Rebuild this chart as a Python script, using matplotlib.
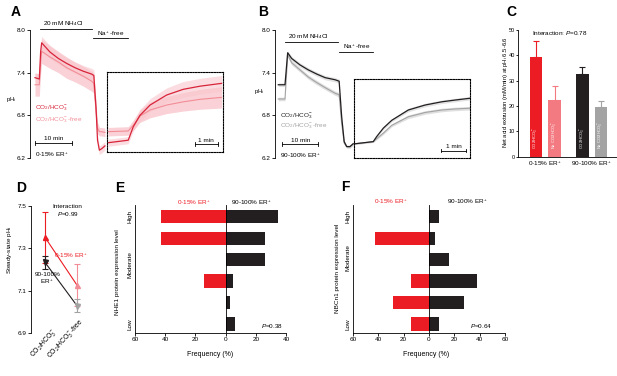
import matplotlib
matplotlib.use('Agg')
import matplotlib.pyplot as plt
from matplotlib.lines import Line2D
import numpy as np

plt.rcParams['font.family'] = ['Liberation Sans', 'DejaVu Sans']
plt.rcParams['mathtext.fontset'] = 'custom'
plt.rcParams['mathtext.rm'] = 'Liberation Sans'
plt.rcParams['mathtext.it'] = 'Liberation Sans:italic'
plt.rcParams['mathtext.bf'] = 'Liberation Sans:bold'

# ---------------- data ----------------
# Panel A (0-15% ER+): main pHi trace (time in min)
a_time = [0, 1.17, 1.53, 1.8, 4.05, 6.31, 8.56, 10.8, 13.06, 15.3, 15.9, 16.5, 16.9, 17.4, 18.0, 18.9]
a_ctrl = [7.33, 7.31, 7.70, 7.82, 7.69, 7.60, 7.53, 7.47, 7.42, 7.38, 7.36, 6.90, 6.45, 6.31, 6.33, 6.37]
a_free = [7.23, 7.23, 7.55, 7.70, 7.62, 7.55, 7.47, 7.41, 7.35, 7.28, 7.25, 6.85, 6.62, 6.57, 6.57, 6.56]
a_ctrl_sem = [0.07, 0.07, 0.08, 0.09, 0.09, 0.08, 0.08, 0.08, 0.08, 0.08, 0.08, 0.08, 0.07, 0.06, 0.06, 0.06]
a_free_sem = [0.16, 0.16, 0.16, 0.17, 0.16, 0.15, 0.15, 0.14, 0.14, 0.14, 0.14, 0.12, 0.08, 0.06, 0.06, 0.06]
# Panel A inset (recovery, time in min)
ai_time = [0.04, 0.91, 1.13, 1.42, 1.86, 2.58, 3.30, 4.03, 4.97]
ai_ctrl = [6.415, 6.45, 6.64, 6.80, 6.945, 7.086, 7.166, 7.21, 7.25]
ai_free = [6.57, 6.58, 6.66, 6.79, 6.875, 6.945, 6.99, 7.025, 7.053]
ai_ctrl_sem = [0.05, 0.05, 0.06, 0.08, 0.09, 0.10, 0.11, 0.11, 0.11]
ai_free_sem = [0.06, 0.06, 0.07, 0.09, 0.11, 0.12, 0.13, 0.14, 0.15]

# Panel B (90-100% ER+)
b_time = [0, 1.86, 2.6, 3.7, 6.0, 8.3, 10.7, 13.0, 15.8, 16.9, 17.6, 18.3, 19.0, 19.9, 20.8]
b_ctrl = [7.23, 7.23, 7.68, 7.60, 7.51, 7.44, 7.38, 7.33, 7.30, 7.28, 6.78, 6.43, 6.36, 6.36, 6.40]
b_free = [7.03, 7.03, 7.65, 7.54, 7.44, 7.34, 7.26, 7.19, 7.11, 7.09, 6.69, 6.41, 6.36, 6.36, 6.40]
b_sem = [0.025, 0.025, 0.03, 0.03, 0.03, 0.03, 0.03, 0.03, 0.03, 0.03, 0.03, 0.02, 0.02, 0.02, 0.02]
bi_time = [0.03, 0.79, 0.93, 1.21, 1.56, 2.25, 2.95, 3.64, 4.2, 4.82]
bi_ctrl = [6.40, 6.43, 6.50, 6.62, 6.73, 6.875, 6.945, 6.99, 7.015, 7.04]
bi_free = [6.40, 6.43, 6.47, 6.55, 6.66, 6.78, 6.84, 6.875, 6.89, 6.90]
bi_sem = [0.01, 0.01, 0.015, 0.02, 0.02, 0.025, 0.025, 0.025, 0.025, 0.025]

# Panel C
c_groups = ['0-15% ER$^+$', '90-100% ER$^+$']
c_bar_labels = ['CO$_2$/HCO$_3^-$', 'No CO$_2$/HCO$_3^-$', 'CO$_2$/HCO$_3^-$', 'No CO$_2$/HCO$_3^-$']
c_values = [39.5, 22.4, 32.6, 19.7]
c_err = [6.3, 5.5, 2.7, 2.4]

# Panel D
d_conditions = ['CO$_2$/HCO$_3^-$', 'CO$_2$/HCO$_3^-$-free']
d_low = [7.352, 7.127]
d_low_err = [0.12, 0.10]
d_high = [7.234, 7.03]
d_high_err = [0.03, 0.03]

# Panels E/F: frequency (%) per expression level, High (top) -> Low (bottom)
e_low = [42.9, 42.9, 0, 14.3, 0, 0]
e_high = [35.0, 25.9, 25.9, 4.6, 2.8, 6.1]
f_low = [0, 42.9, 0, 14.3, 28.6, 14.3]
f_high = [7.5, 4.8, 15.5, 38.0, 28.0, 7.5]
level_ticks = ['Low', 'Moderate', 'High']

# ---------------- style ----------------
RED = '#d8243a'
PINK = '#f28d97'
PINKBAND = '#f9c6cc'
BRED = '#ec1c24'
BPINK = '#f47a82'
BLACK = '#231f20'
GRAY = '#a3a3a3'
FS = 4.6
LW = 0.6

W, H = 617, 376
fig = plt.figure(figsize=(W / 100, H / 100), dpi=100)


def add_ax(x0, y0, x1, y1):
    return fig.add_axes([x0 / W, 1 - y1 / H, (x1 - x0) / W, (y1 - y0) / H])


def ftext(x, y, s, **kw):
    kw.setdefault('fontsize', FS)
    kw.setdefault('va', 'center')
    kw.setdefault('ha', 'left')
    return fig.text(x / W, 1 - y / H, s, **kw)


def hline(x0, x1, y, caps=False, **kw):
    kw.setdefault('color', 'black')
    kw.setdefault('lw', LW)
    fig.add_artist(Line2D([x0 / W, x1 / W], [1 - y / H, 1 - y / H], transform=fig.transFigure, **kw))
    if caps:
        for xx in (x0, x1):
            fig.add_artist(Line2D([xx / W, xx / W], [1 - (y - 1.8) / H, 1 - (y + 1.8) / H],
                                  transform=fig.transFigure, **kw))


def style(ax, left=True, bottom=True):
    for s in ['top', 'right']:
        ax.spines[s].set_visible(False)
    ax.spines['left'].set_visible(left)
    ax.spines['bottom'].set_visible(bottom)
    for s in ['left', 'bottom']:
        ax.spines[s].set_linewidth(LW)
    ax.tick_params(labelsize=FS, length=2, width=LW, pad=1)
    ax.patch.set_alpha(0)


def trace_panel(x_axis, t0px, pxmin, x_right, ctrl, free, time, sem_c, sem_f, c_ctrl, c_free, band_c, band_f):
    ax = add_ax(x_axis, 30, x_right, 158)
    ax.set_xlim((x_axis - t0px) / pxmin, (x_right - t0px) / pxmin)
    ax.set_ylim(6.2, 8.0)
    style(ax, bottom=False)
    ax.set_xticks([])
    ax.set_yticks([6.2, 6.8, 7.4, 8.0])
    ax.set_yticklabels(['6.2', '6.8', '7.4', '8.0'])
    t = np.array(time)
    ax.fill_between(t, np.array(free) - sem_f, np.array(free) + sem_f, color=band_f, lw=0, clip_on=False, alpha=0.8)
    ax.fill_between(t, np.array(ctrl) - sem_c, np.array(ctrl) + sem_c, color=band_c, lw=0, clip_on=False, alpha=0.6)
    ax.plot(t, free, color=c_free, lw=0.8, clip_on=False)
    ax.plot(t, ctrl, color=c_ctrl, lw=0.9, clip_on=False)
    return ax


def inset_panel(x0, y0, x1, y1, xlim, ylim, time, ctrl, free, sem_c, sem_f, c_ctrl, c_free, band_c, band_f):
    ax = add_ax(x0, y0, x1, y1)
    ax.set_xlim(*xlim)
    ax.set_ylim(*ylim)
    ax.set_xticks([])
    ax.set_yticks([])
    ax.patch.set_alpha(0)
    for s in ax.spines.values():
        s.set_linestyle((0, (1.2, 1.2)))
        s.set_linewidth(0.8)
    t = np.array(time)
    ax.fill_between(t, np.array(free) - sem_f, np.array(free) + sem_f, color=band_f, lw=0, alpha=0.8)
    ax.fill_between(t, np.array(ctrl) - sem_c, np.array(ctrl) + sem_c, color=band_c, lw=0, alpha=0.6)
    ax.plot(t, free, color=c_free, lw=0.8)
    ax.plot(t, ctrl, color=c_ctrl, lw=0.9)
    return ax


# ---------------- Panel A ----------------
trace_panel(30, 35, 3.7, 225, a_ctrl, a_free, a_time, np.array(a_ctrl_sem), np.array(a_free_sem),
            RED, PINK, PINKBAND, PINKBAND)
inset_panel(107.3, 71.7, 223, 152.3, (0, 5.03), (6.28, 7.414), ai_time, ai_ctrl, ai_free,
            np.array(ai_ctrl_sem), np.array(ai_free_sem), RED, PINK, PINKBAND, PINKBAND)
ftext(16, 12, 'A', fontsize=10, weight='bold', ha='center')
ftext(43, 24, '20 mM NH$_4$Cl')
hline(40, 91.7, 29.3)
ftext(97, 33.8, 'Na$^+$-free')
hline(93.3, 128.3, 38.3)
ftext(11, 99, 'pH$_\\mathrm{i}$', ha='center', fontsize=4.2)
ftext(35, 108.3, 'CO$_2$/HCO$_3^-$', color=RED)
ftext(35, 120.7, 'CO$_2$/HCO$_3^-$-free', color=PINK)
ftext(53.3, 138.3, '10 min', ha='center')
hline(35, 71.7, 142.7, caps=True)
ftext(35, 155, '0-15% ER$^+$')
ftext(206, 140, '1 min', ha='center')
hline(195, 217.7, 144.3, caps=True)

# ---------------- Panel B ----------------
trace_panel(275, 278.3, 3.6, 470, b_ctrl, b_free, b_time, np.array(b_sem), np.array(b_sem),
            BLACK, GRAY, '#cfcfcf', '#d8d8d8')
inset_panel(354.3, 79, 470, 157.7, (0, 4.82), (6.204, 7.311), bi_time, bi_ctrl, bi_free,
            np.array(bi_sem), np.array(bi_sem), BLACK, GRAY, '#cfcfcf', '#d8d8d8')
ftext(263, 12, 'B', fontsize=10, weight='bold', ha='center')
ftext(288, 36.7, '20 mM NH$_4$Cl')
hline(285, 338, 41.7)
ftext(343, 47, 'Na$^+$-free')
hline(339, 373, 51.7)
ftext(259, 91, 'pH$_\\mathrm{i}$', ha='center', fontsize=4.2)
ftext(280, 116.7, 'CO$_2$/HCO$_3^-$', color=BLACK)
ftext(280, 126.7, 'CO$_2$/HCO$_3^-$-free', color=GRAY)
ftext(300.3, 140.3, '10 min', ha='center')
hline(282.3, 318.3, 144.3, caps=True)
ftext(280, 156, '90-100% ER$^+$')
ftext(454, 146.5, '1 min', ha='center')
hline(441, 466, 150.5, caps=True)

# ---------------- Panel C ----------------
axC = add_ax(518, 30, 617, 156.7)
style(axC)
axC.tick_params(axis='y', labelsize=4.0, length=1.5, pad=0.6)
c_pos = [0, 1, 2.5, 3.5]
axC.set_xlim((518 - 536) / 18.57, (617 - 536) / 18.57)
axC.set_ylim(0, 50)
c_cols = [BRED, BPINK, BLACK, GRAY]
axC.bar(c_pos, c_values, width=0.68, color=c_cols)
for p, v, e, col in zip(c_pos, c_values, c_err, c_cols):
    axC.errorbar([p], [v], yerr=[[0], [e]], fmt='none', ecolor=col, elinewidth=0.8, capsize=2.2, capthick=0.8)
for p, lab in zip(c_pos, c_bar_labels):
    axC.text(p, 3.2, lab, rotation=90, ha='center', va='bottom', color='white', fontsize=2.9)
axC.set_yticks([0, 10, 20, 30, 40, 50])
axC.set_xticks([0.5, 3.0])
axC.set_xticklabels(c_groups)
axC.tick_params(axis='x', length=0, pad=2.5)
ftext(511, 12, 'C', fontsize=10, weight='bold', ha='center')
ftext(505, 92, 'Net acid extrusion (mM/min) at pH$_\\mathrm{i}$ 6.5-6.6', rotation=90, ha='center', fontsize=4.2)
ftext(532, 33.3, 'Interaction: $P$=0.78')

# ---------------- Panel D ----------------
axD = add_ax(31, 206, 100, 333.3)
style(axD, bottom=False)
axD.set_xlim(-0.44, 1.72)
axD.set_ylim(6.9, 7.5)
axD.set_xticks([])
axD.set_yticks([6.9, 7.1, 7.3, 7.5])
axD.plot([0, 1], d_low, color=BRED, lw=0.8, zorder=2)
axD.plot([0, 1], d_high, color=BLACK, lw=0.8, zorder=2)
for i, (col_l, col_h) in enumerate([(BRED, BLACK), (PINK, GRAY)]):
    axD.errorbar([i], [d_low[i]], yerr=[d_low_err[i]], fmt='^', color=col_l, ms=3.6,
                 elinewidth=0.8, capsize=2, capthick=0.8, zorder=3)
    axD.errorbar([i], [d_high[i]], yerr=[d_high_err[i]], fmt='v', color=col_h, ms=3.6,
                 elinewidth=0.8, capsize=2, capthick=0.8, zorder=4)
ftext(21, 188, 'D', fontsize=10, weight='bold', ha='center')
ftext(10, 250, 'Steady-state pH$_\\mathrm{i}$', rotation=90, ha='center')
ftext(67, 206.7, 'Interaction', ha='center')
ftext(68, 213.8, '$P$=0.99', ha='center')
ftext(71, 255.7, '0-15% ER$^+$', ha='center', color=BRED)
ftext(48, 274, '90-100%', ha='center')
ftext(47.5, 282.3, 'ER$^+$', ha='center')
ftext(56, 330, d_conditions[0], rotation=48, rotation_mode='anchor', ha='right', va='center', fontsize=4.9)
ftext(82, 320, d_conditions[1], rotation=48, rotation_mode='anchor', ha='right', va='center', fontsize=4.9)


# ---------------- Panels E, F ----------------
def freq_panel(x0, x1, xlim, xticks, low, high, mod_pos):
    ax = add_ax(x0, 205, x1, 333)
    style(ax)
    ax.set_xlim(*xlim)
    ax.set_ylim(-0.42, 5.545)
    ypos = np.arange(len(low))[::-1]
    ax.barh(ypos, -np.array(low), height=0.62, color=BRED)
    ax.barh(ypos, high, height=0.62, color=BLACK)
    ax.axvline(0, color='black', lw=LW)
    ax.set_xticks(xticks)
    ax.set_xticklabels([str(abs(v)) for v in xticks])
    ax.set_yticks([0, mod_pos, 5])
    ax.set_yticklabels(level_ticks, rotation=90, va='center')
    ax.tick_params(axis='y', length=0, pad=2)
    return ax


freq_panel(135, 286, (-60, 40), [-60, -40, -20, 0, 20, 40], e_low, e_high, 2.75)
ftext(120, 188, 'E', fontsize=10, weight='bold', ha='center')
ftext(118, 272, 'NHE1 protein expression level', rotation=90, ha='center')
ftext(194, 203.3, '0-15% ER$^+$', ha='center', color=BRED)
ftext(252, 203.3, '90-100% ER$^+$', ha='center')
ftext(272, 325.7, '$P$=0.38', ha='center')
ftext(210.5, 354, 'Frequency (%)', ha='center', fontsize=5)

freq_panel(353, 505, (-60, 60), [-60, -40, -20, 0, 20, 40, 60], f_low, f_high, 3.1)
ftext(345, 187, 'F', fontsize=10, weight='bold', ha='center')
ftext(338, 268, 'NBCn1 protein expression level', rotation=90, ha='center')
ftext(391, 201.7, '0-15% ER$^+$', ha='center', color=BRED)
ftext(468, 202, '90-100% ER$^+$', ha='center')
ftext(481, 325.7, '$P$=0.64', ha='center')
ftext(426, 354, 'Frequency (%)', ha='center', fontsize=5)

fig.savefig('out.png', dpi=100)
